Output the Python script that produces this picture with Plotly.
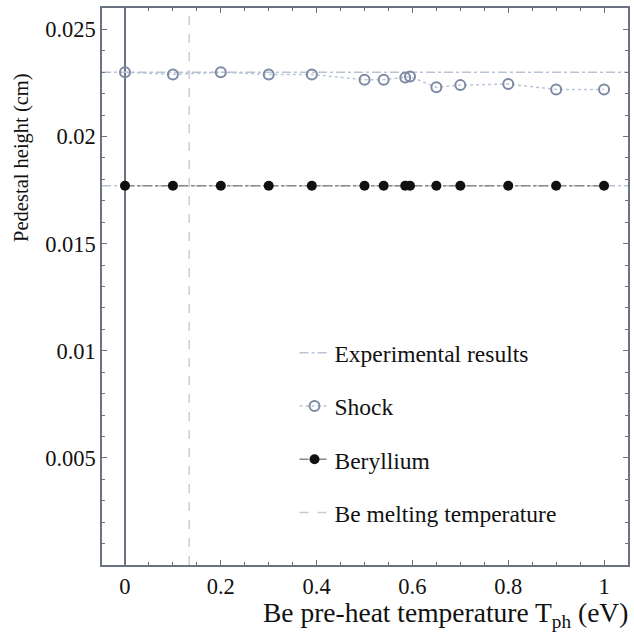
import plotly.graph_objects as go

# Data
shock_x = [0, 0.1, 0.2, 0.3, 0.39, 0.5, 0.54, 0.585, 0.595, 0.65, 0.7, 0.8, 0.9, 1.0]
shock_y = [0.0230, 0.0229, 0.0230, 0.0229, 0.0229, 0.02265, 0.02265, 0.02275, 0.0228,
           0.0223, 0.0224, 0.02245, 0.0222, 0.0222]
be_x = [0, 0.1, 0.2, 0.3, 0.39, 0.5, 0.54, 0.585, 0.595, 0.65, 0.7, 0.8, 0.9, 1.0]
be_y = [0.0177] * 14
exp_levels = [0.0230, 0.0177]
x_range = [-0.048, 1.05]
y_range = [0.0, 0.026]
melt_T = 0.134

x_tickvals = [0, 0.2, 0.4, 0.6, 0.8, 1.0]
x_ticktext = ["0", "0.2", "0.4", "0.6", "0.8", "1"]
y_tickvals = [0.005, 0.01, 0.015, 0.02, 0.025]
y_ticktext = ["0.005", "0.01", "0.015", "0.02", "0.025"]

FONT = "Liberation Serif"

exp_x, exp_y = [], []
for lv in exp_levels:
    exp_x += [x_range[0], x_range[1], None]
    exp_y += [lv, lv, None]

fig = go.Figure()
fig.add_trace(go.Scatter(x=exp_x, y=exp_y, mode="lines", name="Experimental results",
                         legendgroup="a",
                         line=dict(color="#b9c3d6", width=1.5, dash="dashdot")))
fig.add_trace(go.Scatter(x=shock_x, y=shock_y, mode="lines+markers", name="Shock",
                         legendgroup="b",
                         line=dict(color="#bcc5d6", width=1.5, dash="dot"),
                         marker=dict(symbol="circle-open", size=10, color="#7d8aa3",
                                     line=dict(width=2, color="#7d8aa3"))))
fig.add_trace(go.Scatter(x=be_x, y=be_y, mode="lines+markers", name="Beryllium",
                         legendgroup="c",
                         line=dict(color="#888888", width=1.5, dash="dashdot"),
                         marker=dict(symbol="circle", size=10, color="#111111")))
fig.add_trace(go.Scatter(x=[melt_T, melt_T], y=y_range, mode="lines",
                         name="Be melting temperature", legendgroup="d",
                         line=dict(color="#c8ccd6", width=1.5, dash="dash")))

axis_common = dict(showline=True, linecolor="#6b7282", linewidth=1.5, mirror="ticks",
                   ticks="inside", ticklen=5, tickcolor="#6b7282", showgrid=False,
                   tickfont=dict(family=FONT, size=22.5, color="#111"))

fig.update_xaxes(range=x_range, tickvals=x_tickvals, ticktext=x_ticktext,
                 zeroline=True, zerolinecolor="#6b7282", zerolinewidth=1.5,
                 minor=dict(dtick=0.05, tick0=0, ticks="inside", ticklen=3, tickcolor="#6b7282"),
                 **axis_common)
fig.update_yaxes(range=y_range, tickvals=y_tickvals, ticktext=y_ticktext,
                 zeroline=False,
                 minor=dict(dtick=0.001, tick0=0, ticks="inside", ticklen=3, tickcolor="#6b7282"),
                 **axis_common)

fig.add_annotation(text="Pedestal height (cm)", xref="paper", yref="paper",
                   x=-0.152, y=0.731, xanchor="center", yanchor="middle",
                   textangle=-90, showarrow=False,
                   font=dict(family=FONT, size=20.5, color="#111"))
fig.add_annotation(text="Be pre-heat temperature T<sub>ph</sub> (eV)", xref="paper", yref="paper",
                   x=1.004, y=-0.088, xanchor="right", yanchor="middle", showarrow=False,
                   font=dict(family=FONT, size=27.5, color="#111"))

fig.update_layout(
    width=634, height=640,
    margin=dict(l=102, r=4, t=8, b=75),
    plot_bgcolor="white", paper_bgcolor="white",
    font=dict(family=FONT),
    legend=dict(x=0.366, y=0.42, xanchor="left", yanchor="top",
                bgcolor="rgba(0,0,0,0)", tracegroupgap=19.7,
                font=dict(family=FONT, size=23.5, color="#111")),
)

fig.write_html("out.html")
